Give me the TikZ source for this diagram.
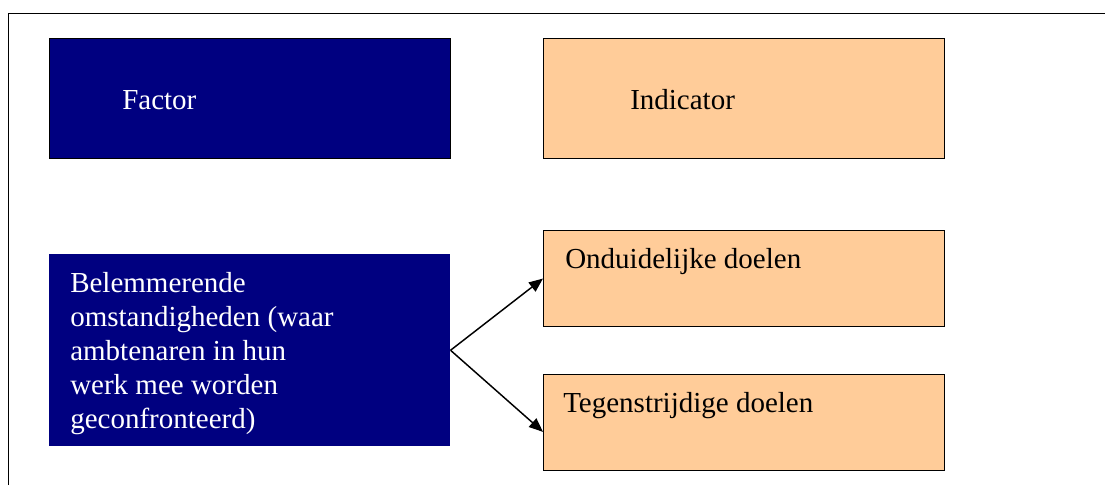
\documentclass[tikz,border=0pt]{standalone}
\usepackage{xcolor}
\usepackage{fontspec}
\setmainfont{Liberation Serif}
\usepackage{tikz}
\usetikzlibrary{arrows.meta}
\definecolor{factorblue}{HTML}{000080}
\definecolor{indpeach}{HTML}{FFCC99}

\begin{document}
\begin{tikzpicture}[x=0.75pt, y=-0.75pt,
  box/.style={rectangle, minimum width=300.75pt, anchor=north west, inner sep=0pt},
  lbl/.style={anchor=base west, inner sep=0pt, font=\fontsize{21.75}{25.5}\selectfont},
  arr/.style={-{Triangle[length=10.5pt, width=8.5pt]}, line width=1.1pt}]
\useasboundingbox (0,0) rectangle (1105,485);
\draw[line width=1.3pt] (8.5,485) -- (8.5,13.5) -- (1105,13.5);
% boxes
\node[box, fill=factorblue, draw=black, line width=0.8pt, minimum height=90pt] (factor) at (49,38) {};
\node[box, fill=indpeach, draw=black, line width=0.8pt, minimum height=90pt] (indic) at (543,38) {};
\node[box, fill=factorblue, minimum height=144pt] (belem) at (49,254) {};
\node[box, fill=indpeach, draw=black, line width=0.8pt, minimum height=72pt] (ondui) at (543,230) {};
\node[box, fill=indpeach, draw=black, line width=0.8pt, minimum height=72pt] (tegen) at (543,374) {};
% texts
\node[lbl, text=white] at (122,109) {Factor};
\node[lbl] at (630,109) {Indicator};
\node[lbl, text=white, align=left, anchor=north west] at (70,272) {Belemmerende\\omstandigheden (waar\\ambtenaren in hun\\werk mee worden\\geconfronteerd)};
\node[lbl] at (565,268) {Onduidelijke doelen};
\node[lbl] at (563,412) {Tegenstrijdige doelen};
% arrows
\draw[arr] (belem.east) -- (ondui.west);
\draw[arr] (belem.east) -- ([yshift=-7pt]tegen.west);
\end{tikzpicture}
\end{document}
